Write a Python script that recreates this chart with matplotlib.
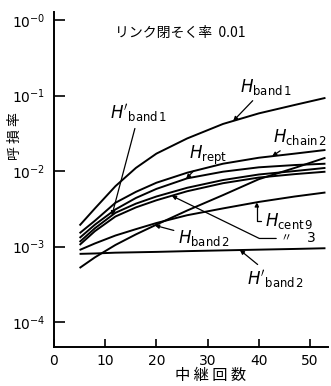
import numpy as np
import matplotlib
matplotlib.use("Agg")
import matplotlib.pyplot as plt
from matplotlib.ticker import FixedLocator, FixedFormatter

plt.rcParams["font.family"] = ["DejaVu Sans"]
CJK = ["Noto Sans CJK JP", "DejaVu Sans"]

# 中継回数
relays = [5, 8, 12, 16, 20, 26, 33, 40, 47, 53]

# 呼損率 (リンク閉そく率 0.01)
h_band1 = [1.9e-3, 3.2e-3, 6.3e-3, 1.1e-2, 1.7e-2, 2.7e-2, 4.2e-2, 5.8e-2, 7.5e-2, 9.3e-2]
h_chain2 = [1.5e-3, 2.2e-3, 3.8e-3, 5.3e-3, 7.0e-3, 9.5e-3, 1.25e-2, 1.5e-2, 1.7e-2, 1.9e-2]
h_rept = [1.3e-3, 1.95e-3, 3.1e-3, 4.4e-3, 5.8e-3, 8.0e-3, 9.8e-3, 1.12e-2, 1.2e-2, 1.25e-2]
h_band1_p = [1.15e-3, 1.75e-3, 2.8e-3, 3.7e-3, 4.6e-3, 6.0e-3, 7.6e-3, 9.0e-3, 1.0e-2, 1.1e-2]
h_cent3 = [1.05e-3, 1.6e-3, 2.5e-3, 3.3e-3, 4.1e-3, 5.4e-3, 6.9e-3, 8.2e-3, 9.1e-3, 9.8e-3]
h_cent9 = [9.0e-4, 1.1e-3, 1.4e-3, 1.7e-3, 2.05e-3, 2.6e-3, 3.2e-3, 3.9e-3, 4.6e-3, 5.2e-3]
h_band2 = [5.2e-4, 7.2e-4, 1.05e-3, 1.45e-3, 1.95e-3, 3.0e-3, 4.8e-3, 7.8e-3, 1.1e-2, 1.5e-2]
h_band2_p = [8.0e-4, 8.1e-4, 8.3e-4, 8.4e-4, 8.5e-4, 8.7e-4, 8.9e-4, 9.1e-4, 9.3e-4, 9.5e-4]

x_ticks = [0, 10, 20, 30, 40, 50]
y_ticks = [1e0, 1e-1, 1e-2, 1e-3, 1e-4]
y_labels = [r"$10^{-0}$", r"$10^{-1}$", r"$10^{-2}$", r"$10^{-3}$", r"$10^{-4}$"]

fig = plt.figure(figsize=(3.31, 3.86), dpi=100)
ax = fig.add_axes([0.163, 0.101, 0.828, 0.868])

for ys in [h_band1, h_chain2, h_rept, h_band1_p, h_cent3, h_cent9, h_band2, h_band2_p]:
    ax.plot(relays, ys, color="black", lw=1.4, solid_capstyle="butt")

ax.set_yscale("log")
ax.set_xlim(0, 53.5)
ax.set_ylim(10 ** -4.33, 10 ** 0.106)

ax.spines["top"].set_visible(False)
ax.spines["right"].set_visible(False)
ax.spines["left"].set_linewidth(1.4)
ax.spines["bottom"].set_linewidth(1.4)

ax.xaxis.set_major_locator(FixedLocator(x_ticks))
ax.yaxis.set_major_locator(FixedLocator(y_ticks))
ax.yaxis.set_major_formatter(FixedFormatter(y_labels))
ax.yaxis.set_minor_locator(FixedLocator([]))
ax.tick_params(axis="y", direction="in", length=8, width=1.2, pad=6, labelsize=10)
ax.tick_params(axis="x", direction="in", length=6, width=1.2, pad=5, labelsize=10)

ax.set_xlabel("中 継 回 数", family=CJK, fontsize=11)
ax.xaxis.set_label_coords(0.57, -0.06)
ax.set_ylabel("呼 損 率", family=CJK, fontsize=10)
ax.yaxis.set_label_coords(-0.115, 0.63)

ax.text(11.9, 0.67, "リンク閉そく率  0.01", family=CJK, fontsize=10, va="center")


def on_curve(xs, ys, x):
    return 10 ** np.interp(x, xs, np.log10(ys))


arrow = dict(arrowstyle="-|>", color="black", lw=0.9, mutation_scale=6,
             shrinkA=1, shrinkB=0)

labels = [
    (r"$\mathit{H}_{\mathrm{band\,1}}$", h_band1, 35.0, (36.3, 0.13), None),
    (r"$\mathit{H}'_{\mathrm{band\,1}}$", h_band1_p, 11.3, (11.0, 0.058), None),
    (r"$\mathit{H}_{\mathrm{chain\,2}}$", h_chain2, 42.6, (42.8, 0.028), None),
    (r"$\mathit{H}_{\mathrm{rept}}$", h_rept, 25.8, (26.4, 0.016), None),
    (r"$\mathit{H}_{\mathrm{cent\,9}}$", h_cent9, 39.6, (41.2, 2.2e-3),
     "angle,angleA=0,angleB=90,rad=0"),
    (r"$\mathit{H}_{\mathrm{band\,2}}$", h_band2, 19.7, (24.2, 1.28e-3), None),
    (r"$\mathit{H}'_{\mathrm{band\,2}}$", h_band2_p, 36.3, (37.7, 3.7e-4), None),
]
for text, ys, xt, pos, conn in labels:
    props = dict(arrow)
    if conn:
        props["connectionstyle"] = conn
    ax.annotate(text, xy=(xt, on_curve(relays, ys, xt)), xytext=pos,
                fontsize=12, ha="left", va="center", arrowprops=props)

# 〃 3 (cent 3)
props = dict(arrow, connectionstyle="angle,angleA=0,angleB=-26,rad=0")
ax.annotate("〃", xy=(23.0, on_curve(relays, h_cent3, 23.0)), xytext=(44.2, 1.28e-3),
            family=CJK, fontsize=8, ha="left", va="center", arrowprops=props)
ax.text(49.4, 1.28e-3, "3", fontsize=10, ha="left", va="center")

fig.savefig("out.png", dpi=100)
